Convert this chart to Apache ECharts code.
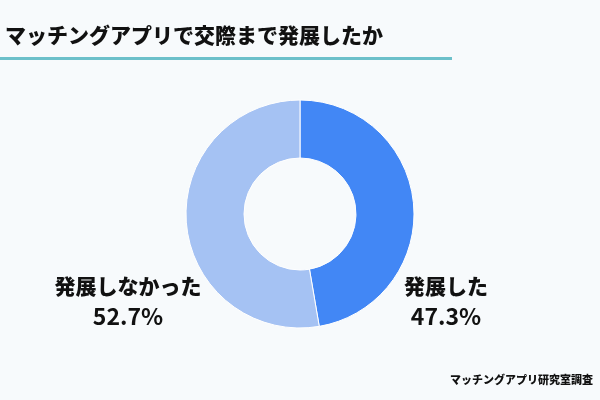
<!DOCTYPE html>
<html>
<head>
<meta charset="utf-8">
<script src="https://cdn.jsdelivr.net/npm/echarts@6/dist/echarts.min.js"></script>
<style>
  html, body { margin: 0; padding: 0; background: #f7fafc; }
  #main { width: 600px; height: 400px; }
</style>
</head>
<body>
<div id="main"></div>
<script>
    // data
    var categories = ['発展した', '発展しなかった'];
    var values = [47.3, 52.7];
    var colors = ['#4287f5', '#a5c2f3'];

    var font = '"Noto Sans CJK JP", "Noto Sans", sans-serif';
    var chart = echarts.init(document.getElementById('main'));

    // label positions (centre of each label block)
    var labelPos = [[446, 302], [128, 302]];

    var option = {
        backgroundColor: '#f7fafc',
        title: {
            text: 'マッチングアプリで交際まで発展したか',
            left: 0,
            top: 20,
            textStyle: {
                fontFamily: font,
                fontSize: 21,
                fontWeight: 900,
                color: '#111'
            }
        },
        graphic: [
            {
                type: 'rect',
                shape: { x: 0, y: 57, width: 452, height: 3 },
                style: { fill: '#6cc0ca' }
            },
            {
                type: 'text',
                right: 7,
                top: 374,
                style: {
                    text: 'マッチングアプリ研究室調査',
                    font: '900 11px ' + font,
                    fill: '#111'
                }
            }
        ],
        series: [
            {
                type: 'pie',
                center: [300, 214],
                radius: [56, 114],
                startAngle: 90,
                clockwise: true,
                silent: true,
                color: colors,
                itemStyle: { borderColor: '#ffffff', borderWidth: 1 },
                label: {
                    show: true,
                    position: 'outside',
                    overflow: 'none',
                    width: 200,
                    formatter: function (p) { return '{n|' + p.name + '}\n{v|' + p.value.toFixed(1) + '%}'; },
                    color: '#111',
                    align: 'center',
                    rich: {
                        n: {
                            fontFamily: font,
                            fontSize: 21,
                            fontWeight: 900,
                            color: '#111',
                            lineHeight: 29,
                            align: 'center'
                        },
                        v: {
                            fontFamily: font,
                            fontSize: 23,
                            fontWeight: 'bold',
                            color: '#111',
                            lineHeight: 31,
                            align: 'center'
                        }
                    }
                },
                labelLine: { show: false },
                labelLayout: function (params) {
                    var p = labelPos[params.dataIndex];
                    return { x: p[0], y: p[1], align: 'center', verticalAlign: 'middle' };
                },
                data: categories.map(function (c, i) {
                    return { name: c, value: values[i] };
                })
            }
        ]
    };

    chart.setOption(option);
</script>
</body>
</html>
